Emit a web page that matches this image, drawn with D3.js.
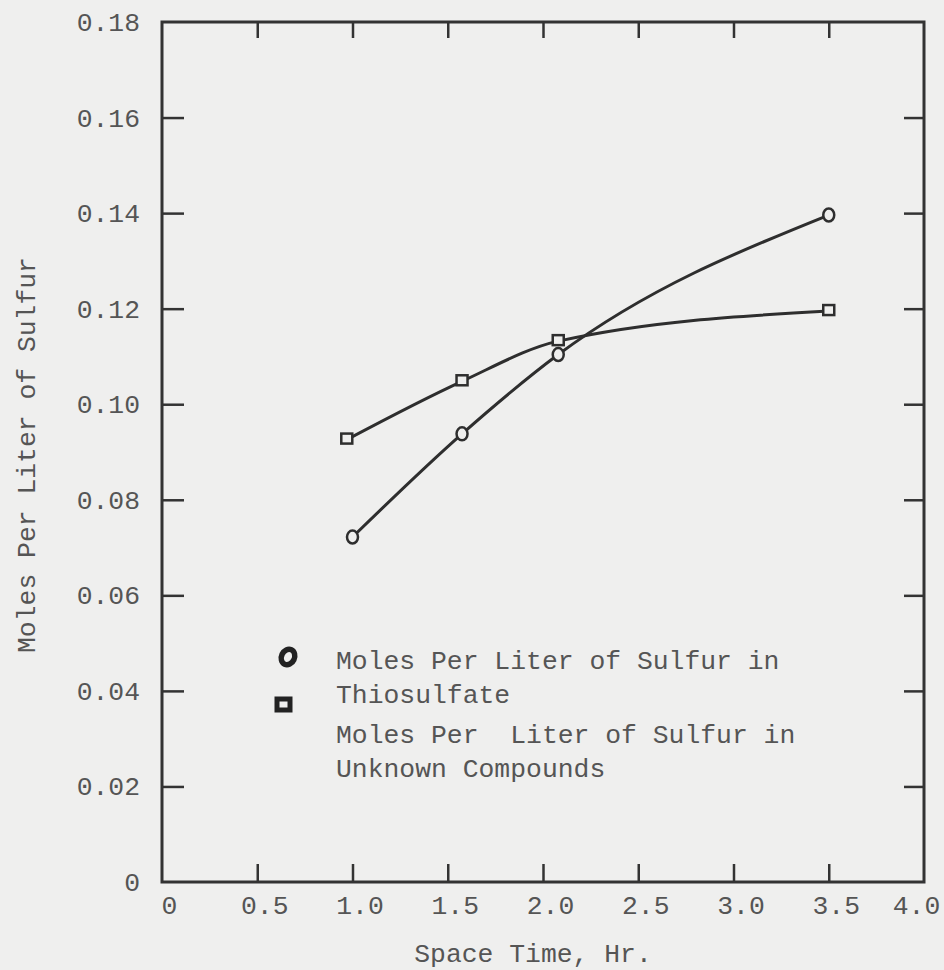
<!DOCTYPE html>
<html>
<head>
<meta charset="utf-8">
<script src="https://cdn.jsdelivr.net/npm/d3@7"></script>
<style>
  body { margin: 0; background: #efefee; }
  svg { display: block; }
  text { font-family: "Liberation Mono", "DejaVu Sans Mono", monospace; fill: #555; }
  .axis path { display: none; }
  .axis line { stroke: #333; stroke-width: 2.5; }
  .axis text { font-size: 26.4px; }
  .frame { fill: none; stroke: #333; stroke-width: 3; }
  .curve { fill: none; stroke: #2e2e2e; stroke-width: 3; }
  .marker { fill: #efefee; stroke: #2e2e2e; stroke-width: 2.5; }
</style>
</head>
<body>
<div id="chart"></div>
<script>
// Data
var xTicks = [0, 0.5, 1.0, 1.5, 2.0, 2.5, 3.0, 3.5, 4.0];
var yTicks = [0, 0.02, 0.04, 0.06, 0.08, 0.10, 0.12, 0.14, 0.16, 0.18];

var thioTime = [1.0, 1.575, 2.08, 3.5];
var thioMoles = [0.0722, 0.0938, 0.1104, 0.1396];

var unknownTime = [0.97, 1.575, 2.08, 3.5];
var unknownMoles = [0.0926, 0.1048, 0.1132, 0.1195];

var legendLabels = [
  ["Moles Per Liter of Sulfur in", "Thiosulfate"],
  ["Moles Per  Liter of Sulfur in", "Unknown Compounds"]
];

var width = 944;
var height = 970;
var margins = { top: 22, right: 20, bottom: 88, left: 162 };

var svg = d3.select("#chart")
  .append("svg")
  .attr("width", width)
  .attr("height", height);

var xScale = d3.scaleLinear()
  .domain([0, 4])
  .range([margins.left, width - margins.right]);

var yScale = d3.scaleLinear()
  .domain([0, 0.18])
  .range([height - margins.bottom, margins.top]);

var x0 = xScale.range()[0], x1 = xScale.range()[1];
var y0 = yScale.range()[0], y1 = yScale.range()[1];

var fmtX = d => d === 0 ? "0" : d3.format(".1f")(d);
var fmtY = d => d === 0 ? "0" : d3.format(".2f")(d);

// Axes with inward ticks
svg.append("g")
  .attr("class", "x axis")
  .attr("transform", `translate(0,${y0})`)
  .call(d3.axisBottom(xScale).tickValues(xTicks).tickSizeInner(-18).tickSizeOuter(0).tickPadding(13).tickFormat(fmtX));

// typed labels sit a little right of the ticks; the last one left of the frame
svg.selectAll(".x.axis .tick text")
  .attr("dx", d => d === 4 ? -8 : 7);

svg.append("g")
  .attr("class", "x axis top")
  .attr("transform", `translate(0,${y1})`)
  .call(d3.axisTop(xScale).tickValues(xTicks.slice(1, -1)).tickSizeInner(-16).tickSizeOuter(0).tickFormat(""));

svg.append("g")
  .attr("class", "y axis")
  .attr("transform", `translate(${x0},0)`)
  .call(d3.axisLeft(yScale).tickValues(yTicks).tickSizeInner(-22).tickSizeOuter(0).tickPadding(22).tickFormat(fmtY));

svg.append("g")
  .attr("class", "y axis right")
  .attr("transform", `translate(${x1},0)`)
  .call(d3.axisRight(yScale).tickValues(yTicks.slice(1, -1)).tickSizeInner(-20).tickSizeOuter(0).tickFormat(""));

// hide corner tick lines
svg.selectAll(".x.axis:not(.top) .tick line").filter(d => d === 0 || d === 4).remove();
svg.selectAll(".y.axis:not(.right) .tick line").filter(d => d === 0 || d === 0.18).remove();

svg.append("rect")
  .attr("class", "frame")
  .attr("x", x0)
  .attr("y", y1)
  .attr("width", x1 - x0)
  .attr("height", y0 - y1);

// Axis titles
svg.append("text")
  .attr("x", 533)
  .attr("y", 962)
  .attr("text-anchor", "middle")
  .style("font-size", "26.4px")
  .text("Space Time, Hr.");

svg.append("text")
  .attr("transform", `translate(35,${yScale(0.09) + 3}) rotate(-90)`)
  .attr("text-anchor", "middle")
  .style("font-size", "26.4px")
  .text("Moles Per Liter of Sulfur");

// Curves
var line = d3.line()
  .x(d => xScale(d[0]))
  .y(d => yScale(d[1]))
  .curve(d3.curveMonotoneX);

var thioPts = thioTime.map((t, i) => [t, thioMoles[i]]);
var unknownPts = unknownTime.map((t, i) => [t, unknownMoles[i]]);

svg.append("path").attr("class", "curve").attr("d", line(thioPts));
svg.append("path").attr("class", "curve").attr("d", line(unknownPts));

// Markers
svg.append("g")
  .selectAll("ellipse")
  .data(thioPts)
  .enter()
  .append("ellipse")
  .attr("class", "marker")
  .attr("cx", d => xScale(d[0]))
  .attr("cy", d => yScale(d[1]))
  .attr("rx", 5.5)
  .attr("ry", 6.5);

svg.append("g")
  .selectAll("rect")
  .data(unknownPts)
  .enter()
  .append("rect")
  .attr("class", "marker")
  .attr("x", d => xScale(d[0]) - 5.5)
  .attr("y", d => yScale(d[1]) - 6)
  .attr("width", 11)
  .attr("height", 10);

// Legend
var legend = svg.append("g").attr("class", "legend");

legend.append("ellipse")
  .attr("cx", 288).attr("cy", 657)
  .attr("rx", 6.5).attr("ry", 8)
  .attr("transform", "rotate(25,288,657)")
  .attr("fill", "#efefee").attr("stroke", "#222").attr("stroke-width", 5.5);

legend.append("rect")
  .attr("x", 277).attr("y", 699)
  .attr("width", 13).attr("height", 11)
  .attr("fill", "#efefee").attr("stroke", "#222").attr("stroke-width", 5);

legendLabels.forEach(function(lines, i) {
  lines.forEach(function(txt, j) {
    legend.append("text")
      .attr("x", 336)
      .attr("y", 669 + i * 74 + j * 34)
      .attr("xml:space", "preserve")
      .style("font-size", "26.4px")
      .style("white-space", "pre")
      .text(txt);
  });
});
</script>
</body>
</html>
